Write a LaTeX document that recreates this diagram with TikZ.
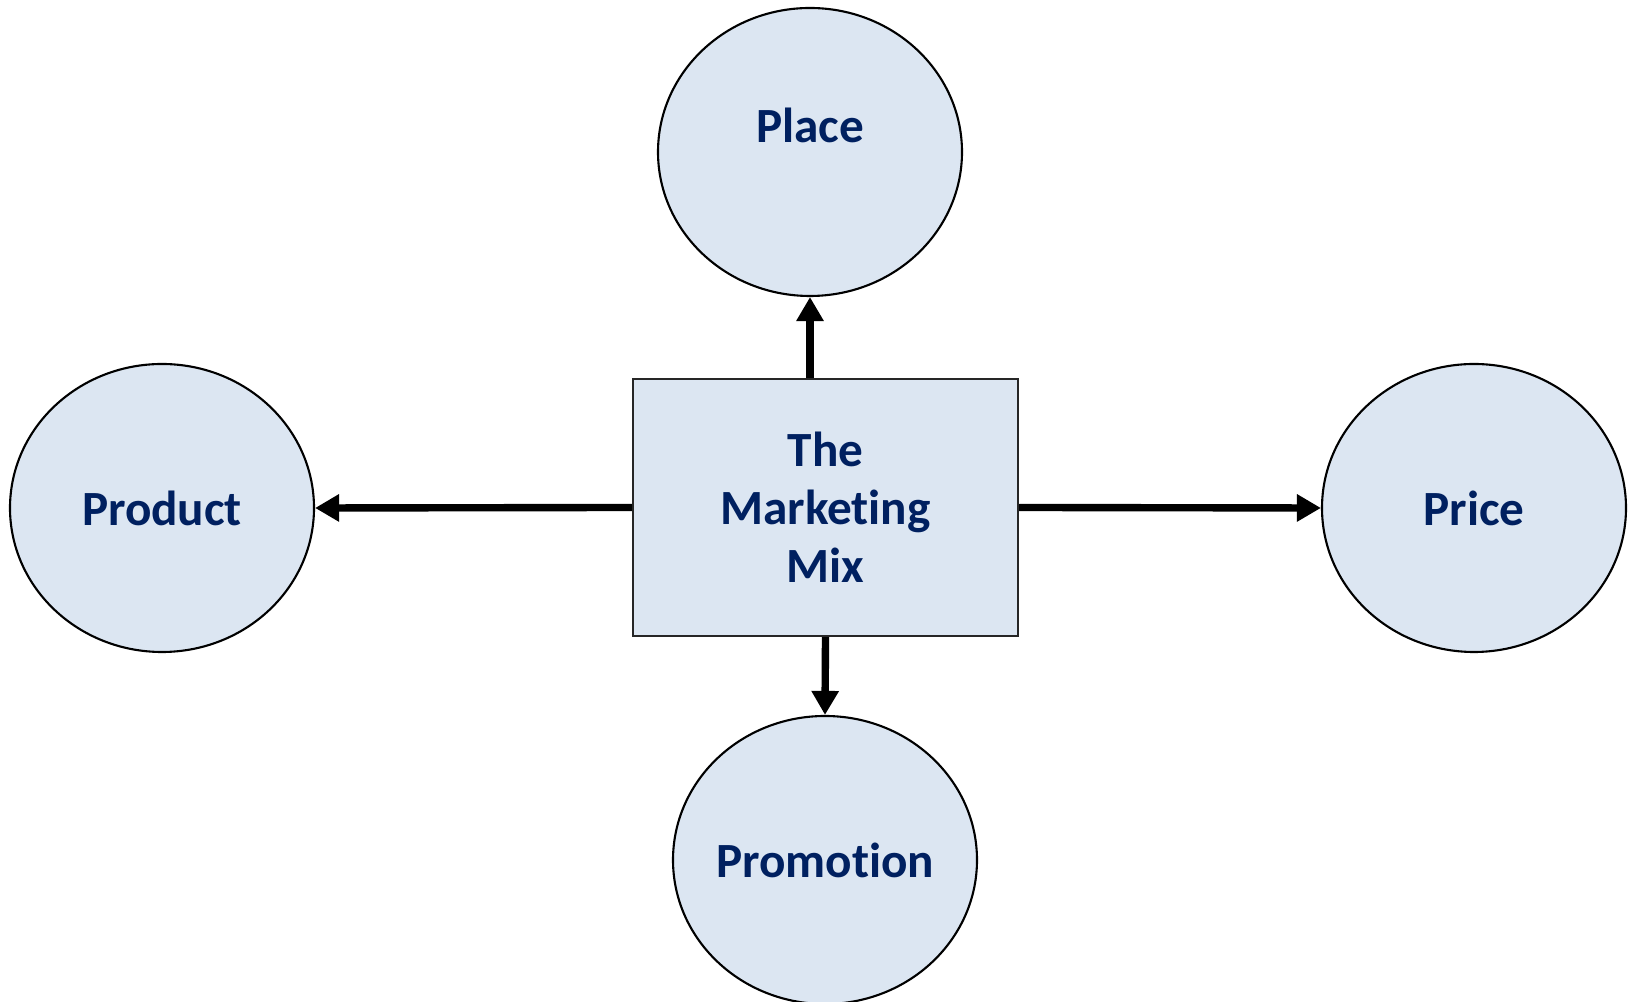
\documentclass[tikz,border=0pt]{standalone}
\usepackage{fontspec}
\setmainfont{Carlito}[Ligatures=NoCommon]
\usepackage{xcolor}
\usepackage{tikz}
\usetikzlibrary{shapes.geometric,arrows.meta}
\definecolor{mixfill}{HTML}{DCE6F2}
\definecolor{mixtext}{HTML}{002060}

\begin{document}
\begin{tikzpicture}[
    part/.style={ellipse, draw=black, line width=0.6pt, fill=mixfill, inner sep=0pt,
        minimum width=3.04cm, minimum height=2.88cm},
    word/.style={text=mixtext, font=\fontsize{14}{16.5}\selectfont\bfseries, align=center},
    arr/.style={line width=2.1pt, -{Triangle[length=0.24cm,width=0.26cm]}}
  ]
    \useasboundingbox (0,0) rectangle (16.28,10.02);

    \node [part] (place) at (8.10,8.50) {};
    \node [part] (product) at (1.62,4.94) {};
    \node [part] (price) at (14.74,4.94) {};
    \node [part] (promo) at (8.25,1.42) {};

    \node [word] (placetext) at ([yshift=0.27cm]place.center) {Place};
    \node [word] (producttext) at (product.center) {Product};
    \node [word] (pricetext) at (price.center) {Price};
    \node [word] (promotext) at (promo.center) {Promotion};

    \node [draw=black!85, line width=0.7pt, fill=mixfill, minimum width=3.85cm,
        minimum height=2.57cm, word] (mix) at (8.255,4.945) {The\\Marketing\\Mix};

    \draw [arr] (mix.north -| place.south) -- (place.south);
    \draw [arr] (mix.south) -- (promo.north);
    \draw [arr] (mix.west) -- (product.east);
    \draw [arr] (mix.east) -- (price.west);
  \end{tikzpicture}
\end{document}
